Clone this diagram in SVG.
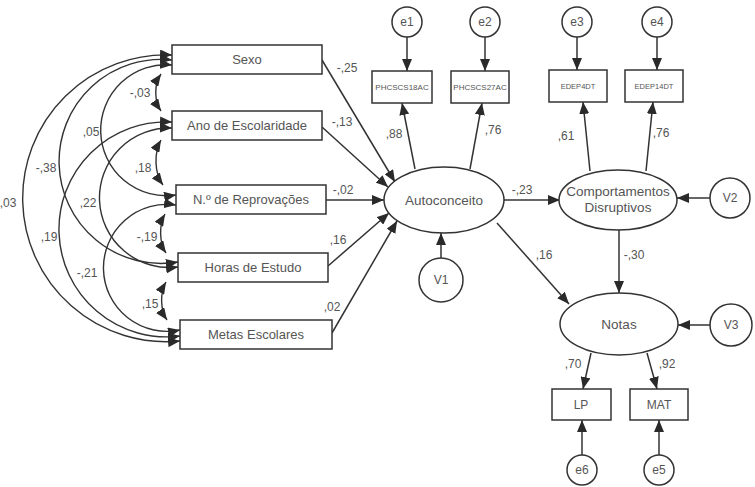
<svg xmlns="http://www.w3.org/2000/svg" width="755" height="487" viewBox="0 0 755 487">
<defs>
<marker id="ah" viewBox="0 0 12 10" refX="12" refY="5" markerWidth="12" markerHeight="10" markerUnits="userSpaceOnUse" orient="auto-start-reverse">
<path d="M0,0 L12,5 L0,10 z" fill="#2a2a2a"/>
</marker>
<style>
.box{fill:#fff;stroke:#333;stroke-width:1.5}
.ell{fill:#fff;stroke:#333;stroke-width:1.5}
.c{fill:none;stroke:#333;stroke-width:1.5}
.a{fill:none;stroke:#333;stroke-width:1.5;marker-end:url(#ah)}
.d{fill:none;stroke:#333;stroke-width:1.4;marker-start:url(#ah);marker-end:url(#ah)}
text{font-family:"Liberation Sans",Arial,sans-serif;fill:#555;text-anchor:middle}
.t{font-size:13px}
.tl{font-size:13.5px}
.ts{font-size:8px}
.tx{font-size:7.5px}
.n{font-size:12px}
</style>
</defs>
<rect width="755" height="487" fill="#fff"/>

<g id="connectors">
<!-- covariances -->
<path class="d" d="M172,55 A143.4,143.4 0 1 0 180,341"/>
<path class="d" d="M172,60 A102,102 0 1 0 178,262"/>
<path class="d" d="M172,122 A107.5,107.5 0 1 0 180,336"/>
<path class="d" d="M172,65 A65.5,65.5 0 1 0 176,195"/>
<path class="d" d="M172,128 A69.8,69.8 0 1 0 178,267"/>
<path class="d" d="M176,205 A63.5,63.5 0 1 0 180,330"/>
<path class="d" d="M161,74 C154,84 154,101 161,111"/>
<path class="d" d="M161,140 C154,152 154,173 163,185"/>
<path class="d" d="M165,214 C159,224 159,243 166,253"/>
<path class="d" d="M166,282 C160,292 160,310 167,320"/>
<!-- predictors -->
<line class="a" x1="322" y1="60" x2="395" y2="182"/>
<line class="a" x1="322" y1="127" x2="388" y2="187"/>
<line class="a" x1="326" y1="200" x2="384" y2="200"/>
<line class="a" x1="328" y1="266" x2="389" y2="213"/>
<line class="a" x1="332" y1="333" x2="397" y2="221"/>
<!-- Autoconceito -->
<line class="a" x1="415" y1="169" x2="402" y2="103"/>
<line class="a" x1="470" y1="169" x2="482" y2="103"/>
<line class="a" x1="504" y1="200" x2="560" y2="200"/>
<line class="a" x1="497" y1="223" x2="569" y2="304"/>
<line class="a" x1="441" y1="258" x2="441" y2="233"/>
<line class="a" x1="407" y1="37" x2="407" y2="71"/>
<line class="a" x1="485" y1="37" x2="485" y2="71"/>
<!-- Comportamentos -->
<line class="a" x1="590" y1="171" x2="583" y2="102"/>
<line class="a" x1="646" y1="171" x2="653" y2="102"/>
<line class="a" x1="619" y1="230" x2="619" y2="293"/>
<line class="a" x1="710" y1="198" x2="677" y2="198"/>
<line class="a" x1="577" y1="37" x2="577" y2="70"/>
<line class="a" x1="657" y1="37" x2="657" y2="70"/>
<!-- Notas -->
<line class="a" x1="591" y1="353" x2="583" y2="389"/>
<line class="a" x1="647" y1="353" x2="657" y2="389"/>
<line class="a" x1="710" y1="325" x2="678" y2="325"/>
<line class="a" x1="582" y1="455" x2="582" y2="420"/>
<line class="a" x1="659" y1="455" x2="659" y2="420"/>
<!-- labels -->
<text class="n" x="140" y="97">-,03</text>
<text class="n" x="91" y="136">,05</text>
<text class="n" x="143" y="172">,18</text>
<text class="n" x="46" y="172">-,38</text>
<text class="n" x="88" y="207">,22</text>
<text class="n" x="8" y="207">,03</text>
<text class="n" x="147" y="241">-,19</text>
<text class="n" x="49" y="241">,19</text>
<text class="n" x="87" y="277">-,21</text>
<text class="n" x="150" y="308">,15</text>
<text class="n" x="347" y="72">-,25</text>
<text class="n" x="342" y="126">-,13</text>
<text class="n" x="343" y="194">-,02</text>
<text class="n" x="338" y="244">,16</text>
<text class="n" x="332" y="311">,02</text>
<text class="n" x="394" y="138">,88</text>
<text class="n" x="493" y="134">,76</text>
<text class="n" x="522" y="194">-,23</text>
<text class="n" x="544" y="259">,16</text>
<text class="n" x="566" y="140">,61</text>
<text class="n" x="661" y="137">,76</text>
<text class="n" x="634" y="259">-,30</text>
<text class="n" x="573" y="368">,70</text>
<text class="n" x="667" y="368">,92</text>
</g>

<g id="sexo"><rect class="box" x="172" y="45" width="150" height="29"/><text class="t" x="247" y="64">Sexo</text></g>
<g id="ano"><rect class="box" x="172" y="111" width="150" height="29"/><text class="t" x="247" y="130">Ano de Escolaridade</text></g>
<g id="reprovacoes"><rect class="box" x="176" y="185" width="150" height="29"/><text class="t" x="251" y="204">N.º de Reprovações</text></g>
<g id="horas"><rect class="box" x="178" y="253" width="150" height="29"/><text class="t" x="253" y="272">Horas de Estudo</text></g>
<g id="metas"><rect class="box" x="180" y="320" width="152" height="29"/><text class="t" x="256" y="339">Metas Escolares</text></g>

<g id="autoconceito"><ellipse class="ell" cx="444" cy="200" rx="60" ry="33"/><text class="tl" x="444" y="205">Autoconceito</text></g>
<g id="v1"><circle class="ell" cx="441" cy="280" r="22"/><text class="n" x="441" y="284">V1</text></g>
<g id="phcscs18ac"><rect class="box" x="372" y="71" width="60" height="32"/><text class="ts" x="402" y="90">PHCSCS18AC</text></g>
<g id="phcscs27ac"><rect class="box" x="451" y="71" width="58" height="32"/><text class="ts" x="480" y="90">PHCSCS27AC</text></g>
<g id="e1"><circle class="ell" cx="407" cy="22" r="15"/><text class="n" x="407" y="26">e1</text></g>
<g id="e2"><circle class="ell" cx="485" cy="22" r="15"/><text class="n" x="485" y="26">e2</text></g>

<g id="comportamentos"><ellipse class="ell" cx="618" cy="200" rx="59" ry="30"/><text class="tl" x="618" y="196">Comportamentos</text><text class="tl" x="618" y="212">Disruptivos</text></g>
<g id="v2"><circle class="ell" cx="730" cy="198" r="20"/><text class="n" x="730" y="202">V2</text></g>
<g id="edep4dt"><rect class="box" x="549" y="70" width="58" height="32"/><text class="tx" x="578" y="89">EDEP4DT</text></g>
<g id="edep14dt"><rect class="box" x="625" y="70" width="58" height="32"/><text class="tx" x="654" y="89">EDEP14DT</text></g>
<g id="e3"><circle class="ell" cx="577" cy="22" r="15"/><text class="n" x="577" y="26">e3</text></g>
<g id="e4"><circle class="ell" cx="657" cy="22" r="15"/><text class="n" x="657" y="26">e4</text></g>

<g id="notas"><ellipse class="ell" cx="619" cy="324" rx="59" ry="31"/><text class="tl" x="619" y="329">Notas</text></g>
<g id="v3"><circle class="ell" cx="731" cy="325" r="21"/><text class="n" x="731" y="329">V3</text></g>
<g id="lp"><rect class="box" x="552" y="389" width="59" height="31"/><text class="n" x="581" y="409">LP</text></g>
<g id="mat"><rect class="box" x="630" y="389" width="58" height="31"/><text class="n" x="659" y="409">MAT</text></g>
<g id="e6"><circle class="ell" cx="582" cy="470" r="15"/><text class="n" x="582" y="474">e6</text></g>
<g id="e5"><circle class="ell" cx="659" cy="470" r="15"/><text class="n" x="659" y="474">e5</text></g>
</svg>
